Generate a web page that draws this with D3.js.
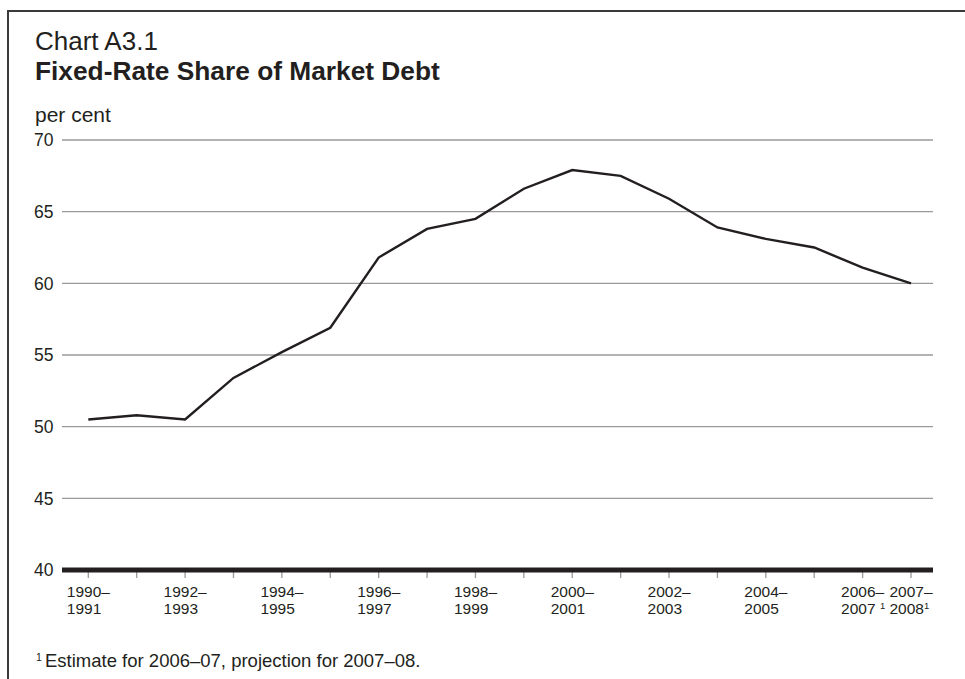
<!DOCTYPE html>
<html>
<head>
<meta charset="utf-8">
<script src="https://cdn.jsdelivr.net/npm/d3@7"></script>
<style>
  html, body { margin: 0; padding: 0; background: #fff; }
  svg { display: block; font-family: "Liberation Sans", Arial, Helvetica, sans-serif; }
</style>
</head>
<body>
<svg id="chart" width="965" height="679"></svg>
<script>
// ---- Data ----
const years = ["1990–91","1991–92","1992–93","1993–94","1994–95","1995–96","1996–97","1997–98","1998–99",
               "1999–00","2000–01","2001–02","2002–03","2003–04","2004–05","2005–06","2006–07","2007–08"];
const fixedShare = [50.5, 50.8, 50.5, 53.4, 55.2, 56.9, 61.8, 63.8, 64.5,
                    66.6, 67.9, 67.5, 65.9, 63.9, 63.1, 62.5, 61.1, 60.0];
const yTicks = [40, 45, 50, 55, 60, 65, 70];
const labelledYears = ["1990–91","1992–93","1994–95","1996–97","1998–99","2000–01","2002–03","2004–05","2006–07","2007–08"];
const tickLabelLines = [["1990–","1991",""],["1992–","1993",""],["1994–","1995",""],["1996–","1997",""],["1998–","1999",""],
                        ["2000–","2001",""],["2002–","2003",""],["2004–","2005",""],["2006–","2007 ","1"],["2007–","2008","1"]];
const chartNumber = "Chart A3.1";
const chartTitle = "Fixed-Rate Share of Market Debt";
const unitLabel = "per cent";
const footnote = "Estimate for 2006–07, projection for 2007–08.";

// ---- Layout ----
const svg = d3.select("#chart");
const plot = { left: 62, right: 933, top: 140, bottom: 570 };

// border (top and left only)
svg.append("line").attr("x1", 7).attr("x2", 965).attr("y1", 11).attr("y2", 11)
  .attr("stroke", "#3a3a3a").attr("stroke-width", 2);
svg.append("line").attr("x1", 8).attr("x2", 8).attr("y1", 10).attr("y2", 679)
  .attr("stroke", "#3a3a3a").attr("stroke-width", 2);

// titles
svg.append("text").attr("x", 35).attr("y", 50).attr("font-size", 26).attr("fill", "#231f20").text(chartNumber);
svg.append("text").attr("x", 35).attr("y", 80).attr("font-size", 26.3).attr("font-weight", "bold").attr("fill", "#231f20").text(chartTitle);
svg.append("text").attr("x", 35).attr("y", 122).attr("font-size", 21).attr("fill", "#231f20").text(unitLabel);

// scales
const x = d3.scalePoint().domain(years).range([88.3, 911]);
const y = d3.scaleLinear().domain([40, 70]).range([plot.bottom, plot.top]);

// gridlines
svg.append("g").selectAll("line").data(yTicks.filter(d => d > 40)).join("line")
  .attr("x1", plot.left).attr("x2", plot.right)
  .attr("y1", d => y(d)).attr("y2", d => y(d))
  .attr("stroke", "#9a9a9c").attr("stroke-width", 1.4);

// y labels
svg.append("g").selectAll("text").data(yTicks).join("text")
  .attr("x", 53.5).attr("y", d => y(d)).attr("dy", "0.36em")
  .attr("text-anchor", "end").attr("font-size", 17.5).attr("fill", "#231f20")
  .text(d => d);

// x tick marks
svg.append("g").selectAll("line").data(years).join("line")
  .attr("x1", d => x(d)).attr("x2", d => x(d))
  .attr("y1", plot.bottom).attr("y2", plot.bottom + 8)
  .attr("stroke", "#9a9a9c").attr("stroke-width", 1.3);

// baseline
svg.append("line").attr("x1", plot.left).attr("x2", plot.right)
  .attr("y1", y(40)).attr("y2", y(40))
  .attr("stroke", "#231f20").attr("stroke-width", 5);

// x labels
const xl = svg.append("g").selectAll("text").data(labelledYears).join("text")
  .attr("font-size", 15.5).attr("fill", "#231f20");
xl.each(function(d, i) {
  const t = d3.select(this);
  const lines = tickLabelLines[i];
  const x0 = x(d) - 21.5;
  t.append("tspan").attr("x", x0).attr("y", 597).text(lines[0]);
  t.append("tspan").attr("x", x0).attr("y", 614).text(lines[1]);
  if (lines[2]) {
    t.append("tspan").attr("font-size", 9.5).attr("dy", -5.5).text(lines[2]);
  }
});

// line
const line = d3.line().x((d, i) => x(years[i])).y(d => y(d));
svg.append("path").datum(fixedShare)
  .attr("d", line).attr("fill", "none")
  .attr("stroke", "#231f20").attr("stroke-width", 2.4).attr("stroke-linejoin", "miter");

// footnote
const fn = svg.append("text").attr("x", 36).attr("y", 667).attr("font-size", 18.5).attr("fill", "#231f20");
fn.append("tspan").attr("font-size", 10.5).attr("dy", -6.5).text("1");
fn.append("tspan").attr("x", 45).attr("y", 667).text(footnote);
</script>
</body>
</html>
